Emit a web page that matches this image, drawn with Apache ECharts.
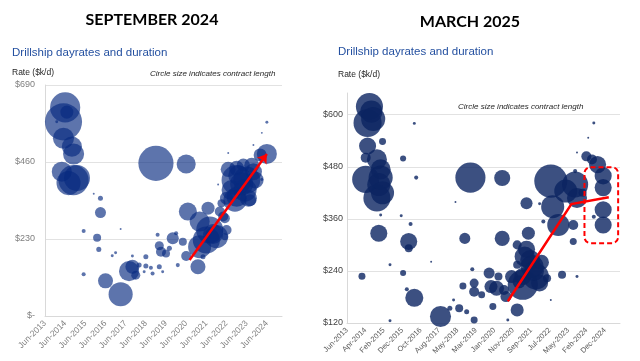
<!DOCTYPE html>
<html><head><meta charset="utf-8">
<script src="https://cdn.jsdelivr.net/npm/echarts@6/dist/echarts.min.js"></script>
<style>html,body{margin:0;padding:0;background:#fff}#c{width:640px;height:361px}</style>
</head><body><div id="c"></div>
<script>
// ---- tick labels ----
const sepTickLabels = ['Jun-2013','Jun-2014','Jun-2015','Jun-2016','Jun-2017','Jun-2018','Jun-2019','Jun-2020','Jun-2021','Jun-2022','Jun-2023','Jun-2024'];
const marTickLabels = ['Jun-2013','Apr-2014','Feb-2015','Dec-2015','Oct-2016','Aug-2017','May-2018','Mar-2019','Jan-2020','Nov-2020','Sep-2021','Jul-2022','May-2023','Feb-2024','Dec-2024'];
const sepRateTicks = [0, 230, 460, 690];
const marRateTicks = [120, 240, 360, 480, 600];

// ---- September 2024 survey: contract start, dayrate ($k/d), contract length (days) ----
const sepDates = ['2014-06','2014-05','2014-07','2014-05','2014-10','2014-11','2014-04','2014-11','2015-01','2014-08','2014-01','2015-11','2016-03','2018-12','2020-06','2024-06','2024-02','2024-06','2024-03','2023-10','2022-07','2022-07','2022-12','2023-04','2023-10','2022-12','2023-06','2023-11','2022-09','2023-05','2023-07','2022-06','2024-03','2022-01','2023-08','2022-12','2020-07','2021-07','2022-02','2022-04','2021-02','2021-08','2021-12','2021-02','2021-06','2021-01','2022-06','2022-05','2022-03','2022-05','2022-11','2016-03','2015-05','2016-01','2017-03','2016-02','2016-10','2017-10','2015-05','2016-06','2017-03','2017-08','2017-12','2017-10','2018-02','2018-06','2018-09','2018-10','2019-02','2019-01','2019-02','2019-03','2019-06','2019-08','2019-10','2019-12','2020-04','2020-01','2020-06','2021-04','2018-06','2016-12','2018-05','2019-04','2023-01','2023-03','2023-09','2021-10'];
const sepRates = [623,580,609,531,506,484,431,406,412,397,580,365,352,456,454,484,481,579,547,511,487,438,441,451,431,406,406,406,376,376,352,352,408,393,346,356,312,322,312,297,282,257,237,207,227,147,257,237,337,292,346,309,254,234,260,199,180,179,125,105,65,134,122,147,152,149,144,127,147,243,210,192,187,202,232,247,222,152,179,177,177,189,132,132,420,395,450,245];
const sepDays = [723,1100,136,354,321,354,321,723,543,463,7,3,20,984,290,321,136,7,3,3,3,180,180,136,232,723,585,232,321,425,232,136,7,3,116,321,260,136,80,80,321,585,425,425,585,180,80,39,51,80,425,97,13,51,3,20,7,7,13,180,463,321,65,157,20,20,13,13,20,13,65,80,51,20,116,13,51,13,80,20,20,7,7,7,321,425,180,321];

// ---- March 2025 survey ----
const marDates = ['2014-06','2014-05','2014-07','2014-05','2015-01','2014-04','2014-10','2014-12','2014-04','2014-11','2015-01','2014-10','2016-06','2015-12','2016-07','2018-04','2018-12','2014-11','2016-03','2016-03','2018-09','2020-05','2020-05','2024-06','2024-03','2021-06','2022-07','2023-03','2023-08','2023-09','2024-05','2024-08','2024-11','2024-11','2024-11','2024-11','2024-06','2024-02','2023-08','2022-08','2022-11','2023-07','2023-07','2023-12','2021-07','2021-01','2021-05','2021-09','2021-11','2021-04','2021-02','2020-10','2021-01','2022-01','2022-05','2019-10','2020-03','2019-11','2020-02','2020-06','2020-07','2021-01','2019-12','2020-08','2022-07','2023-01','2023-09','2021-04','2015-11','2016-04','2015-05','2017-03','2015-12','2014-02','2016-06','2016-02','2017-08','2018-01','2019-01','2019-02','2019-02','2018-08','2019-06','2018-06','2018-10','2019-02','2015-05','2018-03','2022-01','2014-12','2023-09','2022-03','2021-08','2021-10','2021-06','2022-02','2014-08','2014-12'];
const marRates = [619,581,607,528,538,501,497,474,451,439,420,408,580,499,455,399,455,327,308,292,315,315,454,581,547,396,447,424,439,408,497,485,459,432,381,346,365,504,470,388,346,346,308,420,327,300,273,250,227,227,215,227,254,212,223,235,227,204,200,196,181,150,158,127,173,231,227,208,367,348,254,261,235,228,178,198,135,154,244,212,192,205,185,154,146,127,125,173,395,369,513,354,265,240,290,260,590,455];
const marDays = [585,630,389,232,39,80,321,321,585,425,425,585,7,29,13,3,723,232,232,51,97,180,206,7,3,116,875,425,543,321,80,232,232,232,232,232,13,80,13,425,389,80,39,51,136,65,321,425,543,232,136,136,51,232,51,97,51,136,180,80,97,136,39,7,3,51,7,723,7,13,7,3,29,39,260,13,354,20,13,65,80,39,39,51,20,39,7,7,7,7,3,13,321,321,232,180,463,463];

// ---- annotations ----
const sepArrowDates = ['2020-08','2024-06'];
const sepArrowRates = [167, 484];
const marArrowDates = ['2020-08','2023-06','2025-02'];
const marArrowRates = [170, 394, 410];
const marBoxDates = ['2024-01','2025-07'];
const marBoxRates = [304, 479];

const monthIdx = s => { const p = s.split('-').map(Number); return (p[0]-2013)*12 + (p[1]-6); };
const sizeOf = d => 1.12*Math.sqrt(d);

const sepData = sepDates.map((d,i)=>[monthIdx(d), sepRates[i], sepDays[i]]);
const marData = marDates.map((d,i)=>[monthIdx(d), marRates[i], marDays[i]]);
const marInterval = 138/14;

const chart = echarts.init(document.getElementById('c'), null, {renderer:'canvas'});
const axisLineC = '#d9d9d9', splitC = '#e2e2e2';
const option = {
  animation:false,
  grid:[{left:45, top:85, width:237, height:231},{left:347, top:93, width:273, height:230}],
  xAxis:[
    {type:'value', gridIndex:0, min:0, max:141, interval:12,
     axisLine:{lineStyle:{color:axisLineC}}, axisTick:{show:false}, splitLine:{show:false},
     axisLabel:{rotate:45, fontSize:8.5, color:'#7f7f7f', margin:6, fontFamily:'Liberation Sans', showMaxLabel:false,
       formatter:v=>{const k=Math.round(v/12); return (Math.abs(v-k*12)<1e-6 && k<sepTickLabels.length)?sepTickLabels[k]:'';}}},
    {type:'value', gridIndex:1, min:0, max:146, interval:marInterval,
     axisLine:{lineStyle:{color:axisLineC}}, axisTick:{show:false}, splitLine:{show:false},
     axisLabel:{rotate:45, fontSize:7.5, color:'#595959', margin:6, fontFamily:'Liberation Sans', showMaxLabel:false,
       formatter:v=>{const k=Math.round(v/marInterval); return (Math.abs(v-k*marInterval)<0.01 && k<marTickLabels.length)?marTickLabels[k]:'';}}}
  ],
  yAxis:[
    {type:'value', gridIndex:0, min:sepRateTicks[0], max:sepRateTicks[3], interval:230,
     axisLine:{show:true, lineStyle:{color:axisLineC}}, axisTick:{show:false},
     splitLine:{show:true, showMinLine:false, lineStyle:{color:splitC}},
     axisLabel:{fontSize:9, color:'#7f7f7f', margin:10, fontFamily:'Liberation Sans', formatter:v=>v===0?'$-':'$'+v}},
    {type:'value', gridIndex:1, min:marRateTicks[0], max:650, interval:120,
     axisLine:{show:true, lineStyle:{color:axisLineC}}, axisTick:{show:false},
     splitLine:{show:true, showMinLine:false, showMaxLine:false, lineStyle:{color:splitC}},
     axisLabel:{fontSize:9, color:'#404040', margin:4, fontFamily:'Liberation Sans', showMaxLabel:false, formatter:v=>'$'+v}}
  ],
  series:[
    {type:'scatter', xAxisIndex:0, yAxisIndex:0, data:sepData, symbolSize:v=>sizeOf(v[2]),
     itemStyle:{color:'rgba(8,42,128,0.82)'}, clip:true},
    {type:'scatter', xAxisIndex:1, yAxisIndex:1, data:marData, symbolSize:v=>sizeOf(v[2]),
     itemStyle:{color:'#0b2461'}, clip:true},
    {type:'lines', coordinateSystem:'cartesian2d', xAxisIndex:0, yAxisIndex:0, z:10,
     data:[{coords: sepArrowDates.map((d,i)=>[monthIdx(d), sepArrowRates[i]])}],
     lineStyle:{color:'#ff0000', width:2.5, opacity:1}, symbol:['none','arrow'], symbolSize:9},
    {type:'lines', coordinateSystem:'cartesian2d', xAxisIndex:1, yAxisIndex:1, polyline:true, z:10,
     data:[{coords: marArrowDates.map((d,i)=>[monthIdx(d), marArrowRates[i]])}],
     lineStyle:{color:'#ff0000', width:2.5, opacity:1}, symbol:['none','arrow'], symbolSize:9}
  ]
};
chart.setOption(option);

const p1 = chart.convertToPixel({xAxisIndex:1, yAxisIndex:1}, [monthIdx(marBoxDates[0]), marBoxRates[1]]);
const p2 = chart.convertToPixel({xAxisIndex:1, yAxisIndex:1}, [monthIdx(marBoxDates[1]), marBoxRates[0]]);
const txt = (t,x,y,font,fill,align)=>({type:'text', x, y, z:20, style:{text:t, font, fill, textAlign:align||'left', textVerticalAlign:'middle'}});
chart.setOption({graphic:[
  txt('SEPTEMBER 2024',152,20,'bold 16px Lato','#000','center'),
  txt('MARCH 2025',470,22,'bold 16px Lato','#000','center'),
  txt('Drillship dayrates and duration',12,53,'11.5px "Liberation Sans"','#2450a0'),
  txt('Drillship dayrates and duration',338,52,'11.5px "Liberation Sans"','#2450a0'),
  txt('Rate ($k/d)',12,73,'8.5px "Liberation Sans"','#262626'),
  txt('Rate ($k/d)',338,75,'8.5px "Liberation Sans"','#262626'),
  txt('Circle size indicates contract length',150,74,'italic 8px "Liberation Sans"','#262626'),
  txt('Circle size indicates contract length',458,107,'italic 8px "Liberation Sans"','#262626'),
  {type:'rect', z:15, shape:{x:p1[0], y:p1[1], width:p2[0]-p1[0], height:p2[1]-p1[1], r:6},
   style:{fill:'none', stroke:'#ff0000', lineWidth:2, lineDash:[5,3]}}
]});
</script></body></html>
